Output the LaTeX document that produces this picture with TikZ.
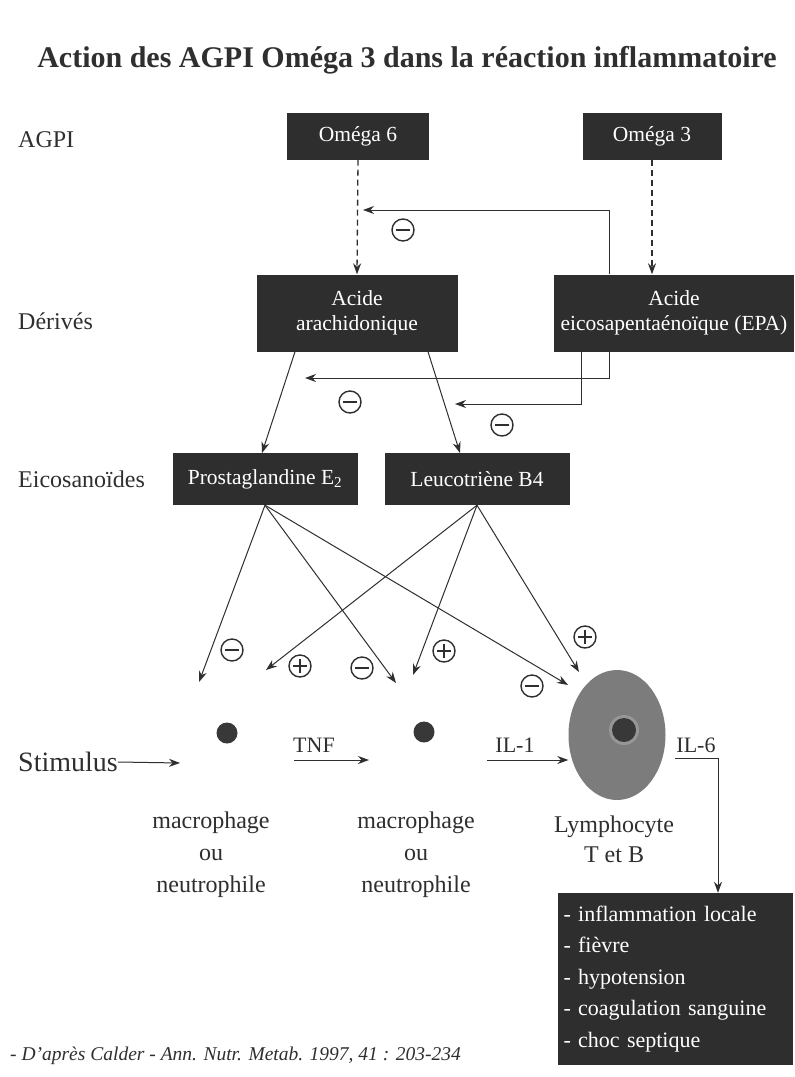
\documentclass[tikz,border=0pt]{standalone}
\usepackage{fontspec}
\setmainfont{Liberation Serif}
\usetikzlibrary{arrows.meta,shapes.geometric}
\definecolor{boxfill}{HTML}{2E2E2E}
\definecolor{cellgray}{HTML}{7C7C7C}
\definecolor{ringgray}{HTML}{969696}
\definecolor{dotgray}{HTML}{383838}
\definecolor{inkgray}{HTML}{2F2F2F}
\begin{document}
\begin{tikzpicture}[x=1pt,y=-1pt,
  darkbox/.style={fill=boxfill,text=white,inner sep=0pt,align=center,
    font=\fontsize{21.5}{25}\selectfont},
  rowlabel/.style={anchor=west,text=inkgray,font=\fontsize{24}{28}\selectfont,inner sep=0pt},
  plain/.style={text=inkgray,font=\fontsize{22}{26}\selectfont,inner sep=0pt,align=center},
  conn/.style={draw=inkgray,line width=1pt,-{Stealth[length=11pt,width=8pt]}},
  dashconn/.style={conn,line width=1.3pt,dash pattern=on 6pt off 4pt},
  signbase/.style={circle,draw=inkgray,line width=1.4pt,minimum size=22pt,inner sep=0pt},
  minussign/.style={signbase,path picture={\draw[inkgray,line width=1.6pt]
     ([xshift=-7pt]path picture bounding box.center) -- ([xshift=7pt]path picture bounding box.center);}},
  plussign/.style={signbase,path picture={\draw[inkgray,line width=1.6pt]
     ([xshift=-7pt]path picture bounding box.center) -- ([xshift=7pt]path picture bounding box.center)
     ([yshift=-7pt]path picture bounding box.center) -- ([yshift=7pt]path picture bounding box.center);}}
]
\useasboundingbox[fill=white] (0,0) rectangle (795,1077);

% title
\node[text=inkgray,font=\bfseries\fontsize{30}{34}\selectfont,inner sep=0pt] (title) at (407,60)
  {Action des AGPI Oméga 3 dans la réaction inflammatoire};

% row labels
\node[rowlabel] (lagpi) at (18,140) {AGPI};
\node[rowlabel] (lder) at (18,321) {Dérivés};
\node[rowlabel] (leic) at (18,479) {Eicosanoïdes};

% boxes
\node[darkbox,minimum width=142pt,minimum height=47pt] (o6) at (358,136) {Oméga 6};
\node[darkbox,minimum width=139pt,minimum height=47pt] (o3) at (652,136) {Oméga 3};
\node[darkbox,minimum width=201pt,minimum height=77pt] (aa) at (357,313) {Acide\\arachidonique};
\node[darkbox,minimum width=240pt,minimum height=77pt] (epa) at (674,313) {Acide\\eicosapentaénoïque (EPA)};
\node[darkbox,minimum width=185pt,minimum height=52pt] (pg) at (265,479) {Prostaglandine E\textsubscript{2}};
\node[darkbox,minimum width=185pt,minimum height=52pt] (lt) at (477,479) {Leucotriène B4};
\node[darkbox,minimum width=235pt,minimum height=172pt,align=left,text width=223pt,
  font=\fontsize{22}{31.5}\selectfont] (out) at (675,979)
  {- inflammation locale\\- fièvre\\- hypotension\\- coagulation sanguine\\- choc septique};

% column coordinates
\coordinate (x609) at (609,0);
\coordinate (x581) at (581,0);
\coordinate (x295) at (295,0);
\coordinate (x428) at (428,0);

% dashed conversions
\draw[dashconn] (o6.south) -- (aa.north);
\draw[dashconn] (o3.south) -- (o3.south |- epa.north);

% inhibitions by EPA
\coordinate (i1a) at (609,210);
\coordinate (i1b) at (363,210);
\draw[conn] (epa.north -| x609) -- (i1a) -- (i1b);
\node[minussign] (m1) at (403,230) {};

\coordinate (i2a) at (609,378);
\coordinate (i2b) at (305,378);
\draw[conn] (epa.south -| x609) -- (i2a) -- (i2b);
\node[minussign] (m2) at (350,402) {};

\coordinate (i3a) at (581,404);
\coordinate (i3b) at (455,404);
\draw[conn] (epa.south -| x581) -- (i3a) -- (i3b);
\node[minussign] (m3) at (502,425) {};

% arachidonic acid to eicosanoids
\coordinate (pgin) at (262,453);
\coordinate (ltin) at (460,453);
\draw[conn] (aa.south -| x295) -- (pgin);
\draw[conn] (aa.south -| x428) -- (ltin);

% eicosanoid actions
\coordinate (t1) at (199,682);
\coordinate (t2) at (396,683);
\coordinate (t3) at (568,685);
\coordinate (t4) at (266,670);
\coordinate (t5) at (413,675);
\coordinate (t6) at (579,672);
\draw[conn] (pg.south) -- (t1);
\draw[conn] (pg.south) -- (t2);
\draw[conn] (pg.south) -- (t3);
\draw[conn] (lt.south) -- (t4);
\draw[conn] (lt.south) -- (t5);
\draw[conn] (lt.south) -- (t6);
\node[minussign] (s1) at (232,650) {};
\node[plussign]  (s4) at (300,666) {};
\node[minussign] (s2) at (362,668) {};
\node[plussign]  (s5) at (444,651) {};
\node[minussign] (s3) at (532,686) {};
\node[plussign]  (s6) at (585,637) {};

% cells
\node[circle,fill=dotgray,minimum size=21pt,inner sep=0pt] (c1) at (227,733) {};
\node[circle,fill=dotgray,minimum size=21pt,inner sep=0pt] (c2) at (424,732) {};
\node[ellipse,fill=cellgray,minimum width=97pt,minimum height=130pt,inner sep=0pt] (ly) at (617,735) {};
\fill[ringgray] (624,730) circle (15pt);
\node[circle,fill=dotgray,minimum size=24pt,inner sep=0pt] (nuc) at (624,730) {};

% stimulus chain
\node[rowlabel,font=\fontsize{28}{32}\selectfont] (stim) at (18,762) {Stimulus};
\coordinate (stimend) at (180,763);
\draw[conn] (stim.east) -- (stimend);

\node[plain] (tnf) at (314,745) {TNF};
\coordinate (tnfa) at (294,760);
\coordinate (tnfb) at (369,760);
\draw[conn] (tnfa) -- (tnfb);

\node[plain] (il1) at (515,745) {IL-1};
\coordinate (il1a) at (487,760);
\draw[conn] (il1a) -- (ly.west |- il1a);

\node[plain] (il6) at (696,745) {IL-6};
\coordinate (il6a) at (675,758);
\coordinate (il6b) at (718,758);
\draw[conn] (il6a) -- (il6b) -- (il6b |- out.north);

% cell labels
\node[plain,font=\fontsize{24}{32}\selectfont] (mac1) at (211,855) {macrophage\\ou\\neutrophile};
\node[plain,font=\fontsize{24}{32}\selectfont] (mac2) at (416,855) {macrophage\\ou\\neutrophile};
\node[plain,font=\fontsize{24}{30}\selectfont] (lyl) at (614,839) {Lymphocyte\\T et B};

% reference
\node[anchor=west,text=inkgray,inner sep=0pt,font=\itshape\fontsize{19.5}{22}\selectfont] (ref) at (10,1056)
  {- D'après Calder - Ann. Nutr. Metab. 1997, 41 : 203-234};
\end{tikzpicture}
\end{document}
